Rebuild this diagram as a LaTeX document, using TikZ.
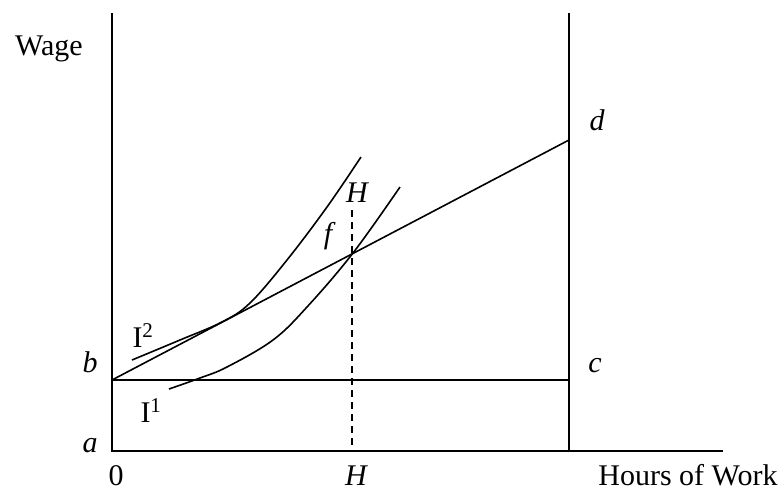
\documentclass[tikz,border=0pt]{standalone}
\usepackage{fontspec}
\setmainfont{Liberation Serif}
\begin{document}
\begin{tikzpicture}[x=1pt,y=-1pt,
  ln/.style={line width=1.6pt},
  lbl/.style={font=\fontsize{30}{34}\selectfont, inner sep=0pt, anchor=base},
  ilbl/.style={lbl, font=\fontsize{30}{34}\selectfont\itshape}]
\useasboundingbox (0,0) rectangle (784,493);
% key points
\coordinate (top) at (112,13);
\coordinate (orig) at (112,451);
\coordinate (xend) at (723,451);
\coordinate (rtop) at (569,13);
\coordinate (rbot) at (569,451);
\coordinate (bp) at (112,380);
\coordinate (cp) at (569,380);
\coordinate (dp) at (569,140);
\coordinate (hd) at (352,210);
\coordinate (hb) at (352,451);
% axes and frame
\draw[ln] (top) -- (orig) -- (xend);
\draw[ln] (rtop) -- (rbot);
\draw[ln] (bp) -- (cp);
\draw[ln] (bp) -- (dp);
\draw[line width=1.3pt, dash pattern=on 7pt off 5pt] (hd) -- (hb);
% indifference curves
\draw[ln] plot[smooth, tension=0.6] coordinates {(132,360) (180,340) (222,322) (250,303) (287,260) (327,207) (361,157)};
\draw[ln] plot[smooth, tension=0.6] coordinates {(169,389) (200,378) (227,367) (273,340) (307,307) (353,253) (400,187)};
% labels
\node[lbl] (wage) at (49,55) {Wage};
\node[ilbl] (d) at (597,130) {d};
\node[ilbl] (c) at (595,372) {c};
\node[ilbl] (b) at (90,372) {b};
\node[ilbl] (a) at (90,452) {a};
\node[lbl] (zero) at (116,485) {0};
\node[ilbl] (hbot) at (356,485) {H};
\node[lbl] (hours) at (688,485) {Hours of Work};
\node[ilbl] (htop) at (357,202) {H};
\node[ilbl] (f) at (328,243) {f};
\node[lbl] (i2) at (143,347) {I\textsuperscript{2}};
\node[lbl] (i1) at (151,422) {I\textsuperscript{1}};
\end{tikzpicture}
\end{document}
